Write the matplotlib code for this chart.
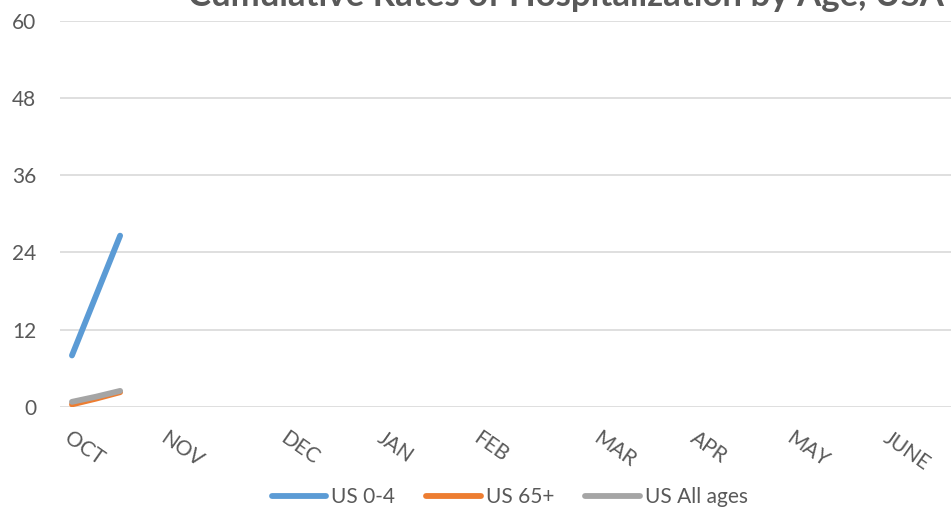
import matplotlib.pyplot as plt

# Datos: semanas de la temporada (etiqueta solo en la primera semana del mes)
MONTHS = ["OCT", "NOV", "DEC", "JAN", "FEB", "MAR", "APR", "MAY", "JUNE"]
WEEKS_PER_MONTH = [4, 5, 4, 4, 5, 4, 4, 4, 3]

us_0_4 = [8.0, 17.3, 26.6]
us_65 = [0.4, 1.3, 2.3]
us_all = [0.8, 1.6, 2.5]

Y_TICKS = [0, 12, 24, 36, 48, 60]

week_labels = []
for m, n in zip(MONTHS, WEEKS_PER_MONTH):
    week_labels += [m] + [""] * (n - 1)

TEXT = "#595959"
plt.rcParams["font.family"] = ["Lato", "DejaVu Sans"]

fig = plt.figure(figsize=(9.51, 5.09), dpi=100)
ax = fig.add_axes([0.063, 0.2004, 0.937, 0.7593])

ax.plot(range(len(us_0_4)), us_0_4, color="#5B9BD5", lw=4.2,
        solid_capstyle="round", label="US 0-4")
ax.plot(range(len(us_65)), us_65, color="#ED7D31", lw=4.2,
        solid_capstyle="round", label="US 65+")
ax.plot(range(len(us_all)), us_all, color="#A5A5A5", lw=4.2,
        solid_capstyle="round", label="US All ages")

ax.set_xlim(-0.5, len(week_labels) - 0.5)
ax.set_ylim(0, 60)
ax.set_yticks(Y_TICKS)
ax.yaxis.grid(True, color="#D9D9D9", lw=1.2)
ax.set_axisbelow(True)
for s in ax.spines.values():
    s.set_visible(False)

idx = [i for i, l in enumerate(week_labels) if l]
ax.set_xticks(idx)
ax.set_xticklabels([week_labels[i] for i in idx], rotation=-35,
                   ha="left", va="top", rotation_mode="anchor")
ax.tick_params(axis="x", length=0, pad=15, labelsize=15, labelcolor=TEXT)
ax.tick_params(axis="y", length=0, pad=17, labelsize=15, labelcolor=TEXT)

fig.text(0.595, 1 - 6 / 509, "Cumulative Rates of Hospitalization by Age, USA",
         ha="center", va="baseline", fontsize=25, fontweight="bold", color=TEXT)

fig.legend(loc="center", bbox_to_anchor=(0.536, 12 / 509), ncol=3,
           frameon=False, fontsize=15, handlelength=2.6, handletextpad=0.25,
           columnspacing=1.5, labelcolor=TEXT)

fig.savefig("out.png", dpi=100)
